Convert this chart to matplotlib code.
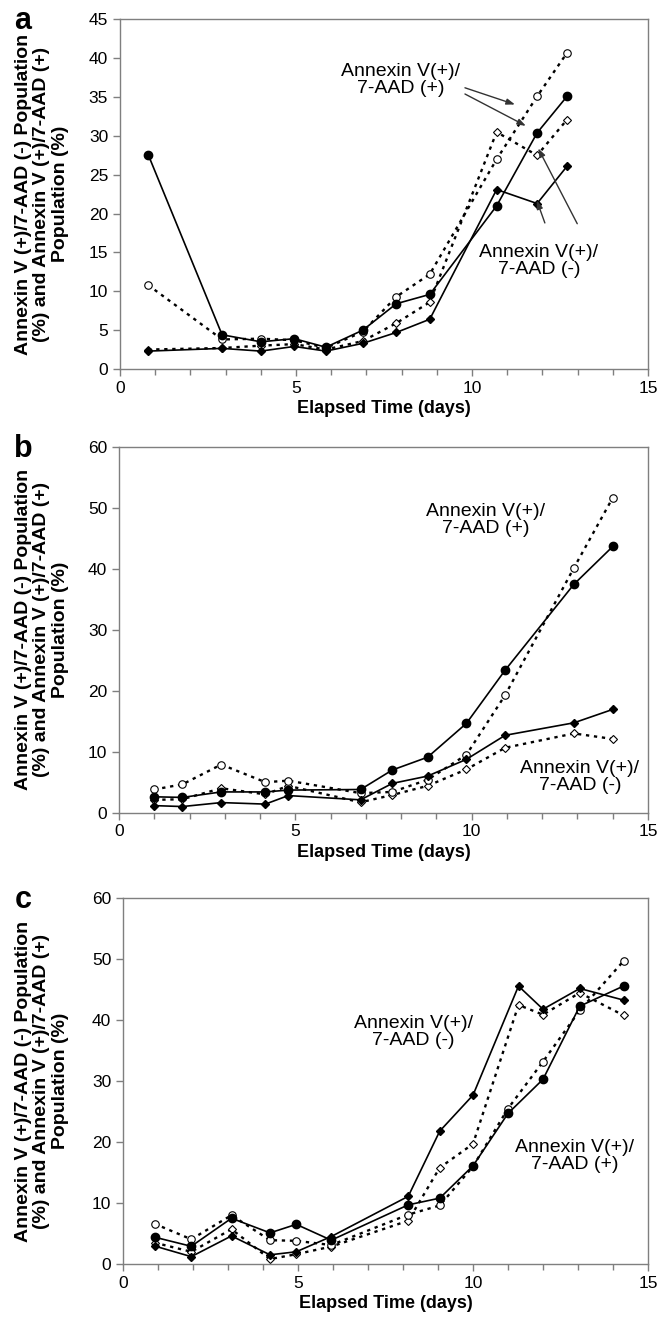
import numpy as np
import matplotlib
matplotlib.use("Agg")
import matplotlib.pyplot as plt
from matplotlib.ticker import MultipleLocator

plt.rcParams['font.family'] = ['Liberation Sans', 'DejaVu Sans']

# ---- panel a ----
days_a = [0.8, 2.9, 4.0, 4.95, 5.85, 6.9, 7.85, 8.8, 10.7, 11.85, 12.7]
a_pos_fill = [27.6, 4.4, 3.5, 3.9, 2.8, 5.0, 8.4, 9.6, 21.0, 30.4, 35.1]
a_pos_open = [10.8, 3.8, 3.9, 3.7, 2.7, 4.8, 9.3, 12.2, 27.0, 35.1, 40.7]
a_neg_fill = [2.3, 2.65, 2.3, 2.9, 2.3, 3.3, 4.7, 6.4, 23.1, 21.3, 26.1]
a_neg_open = [2.5, 2.7, 3.0, 3.2, 2.5, 3.6, 5.9, 8.6, 30.5, 27.5, 32.1]

# ---- panel b ----
days_b = [1.0, 1.8, 2.9, 4.15, 4.8, 6.85, 7.75, 8.75, 9.85, 10.95, 12.9, 14.0]
b_pos_fill = [2.6, 2.5, 3.4, 3.4, 3.7, 3.8, 7.0, 9.1, 14.65, 23.4, 37.5, 43.7]
b_pos_open = [3.8, 4.65, 7.9, 5.0, 5.25, 3.2, 3.4, 5.4, 9.5, 19.3, 40.2, 51.7]
b_neg_fill = [1.15, 1.0, 1.65, 1.4, 2.8, 2.1, 4.8, 6.0, 8.75, 12.7, 14.75, 16.95]
b_neg_open = [2.1, 2.2, 4.0, 3.0, 4.4, 1.7, 2.9, 4.4, 7.1, 10.65, 13.0, 12.1]

# ---- panel c ----
days_c_circ = [0.9, 1.95, 3.1, 4.2, 4.95, 5.95, 8.15, 9.05, 10.0, 11.0, 12.0, 13.05, 14.3]
days_c_diam = [0.9, 1.95, 3.1, 4.2, 4.95, 5.95, 8.15, 9.05, 10.0, 11.3, 12.0, 13.05, 14.3]
c_pos_fill = [4.4, 2.9, 7.5, 5.1, 6.5, 3.9, 9.7, 10.8, 16.1, 24.7, 30.3, 42.3, 45.6]
c_pos_open = [6.6, 4.05, 8.0, 3.9, 3.8, 3.1, 8.1, 9.6, 16.0, 25.5, 33.2, 41.6, 49.7]
c_neg_fill = [2.95, 1.2, 4.6, 1.5, 2.0, 4.5, 11.1, 21.8, 27.7, 45.6, 41.8, 45.2, 43.3]
c_neg_open = [3.5, 2.0, 5.7, 0.8, 1.6, 2.85, 7.1, 15.8, 19.7, 42.5, 40.9, 44.5, 40.8]

lbl_pos = "Annexin V(+)/\n7-AAD (+)"
lbl_neg = "Annexin V(+)/\n7-AAD (-)"
ylab = "Annexin V (+)/7-AAD (-) Population\n(%) and Annexin V (+)/7-AAD (+)\nPopulation (%)"

fig = plt.figure(figsize=(6.61, 13.22), dpi=100)

axes_pos = [[120/661, 0.7209, 528/661, 0.2644],
            [119/661, 0.3853, 529/661, 0.2764],
            [123/661, 0.0439, 525/661, 0.2766]]

solid = dict(color='black', lw=1.2, ls='-')
dotted = dict(color='black', lw=1.7, ls=(0, (1.4, 2.0)))


def draw(ax, xc, xd, pf, po, nf, no, ymax, ystep):
    ax.plot(xd, no, marker='D', ms=4.2, mfc='white', mec='black', mew=0.8, **dotted)
    ax.plot(xc, po, marker='o', ms=5.4, mfc='white', mec='black', mew=0.8, **dotted)
    ax.plot(xd, nf, marker='D', ms=4.4, mfc='black', mec='black', **solid)
    ax.plot(xc, pf, marker='o', ms=6, mfc='black', mec='black', **solid)
    ax.set_xlim(0, 15)
    ax.set_ylim(0, ymax)
    ax.xaxis.set_major_locator(MultipleLocator(5))
    ax.xaxis.set_minor_locator(MultipleLocator(1))
    ax.yaxis.set_major_locator(MultipleLocator(ystep))
    for s in ax.spines.values():
        s.set_color('#7f7f7f')
        s.set_linewidth(1.0)
    ax.tick_params(which='both', direction='out', color='#7f7f7f', labelsize=12.5, width=1.0)
    ax.tick_params(which='major', length=5)
    ax.tick_params(which='minor', length=4)
    ax.set_xlabel("Elapsed Time (days)", fontsize=13, fontweight='bold', labelpad=3)


axs = [fig.add_axes(p) for p in axes_pos]
draw(axs[0], days_a, days_a, a_pos_fill, a_pos_open, a_neg_fill, a_neg_open, 45, 5)
draw(axs[1], days_b, days_b, b_pos_fill, b_pos_open, b_neg_fill, b_neg_open, 60, 10)
draw(axs[2], days_c_circ, days_c_diam, c_pos_fill, c_pos_open, c_neg_fill, c_neg_open, 60, 10)

# annotations panel a
ax = axs[0]
ax.text(7.97, 37.2, lbl_pos, fontsize=14, ha='center', va='center', linespacing=1.0)
ax.text(11.9, 13.9, lbl_neg, fontsize=14, ha='center', va='center', linespacing=1.0)
arr = dict(arrowstyle='-|>,head_length=0.5,head_width=0.18', color='#333333', lw=1.0, shrinkA=0, shrinkB=0)
ax.annotate("", xy=(11.22, 34.05), xytext=(9.8, 36.2), arrowprops=arr)
ax.annotate("", xy=(11.53, 31.3), xytext=(9.8, 35.4), arrowprops=arr)
ax.annotate("", xy=(11.84, 21.7), xytext=(12.07, 18.8), arrowprops=arr)
ax.annotate("", xy=(11.88, 28.4), xytext=(12.99, 18.7), arrowprops=arr)

# panel b labels
axs[1].text(10.4, 48.0, lbl_pos, fontsize=14, ha='center', va='center', linespacing=1.0)
axs[1].text(13.07, 5.8, lbl_neg, fontsize=14, ha='center', va='center', linespacing=1.0)

# panel c labels
axs[2].text(8.29, 38.1, lbl_neg, fontsize=14, ha='center', va='center', linespacing=1.0)
axs[2].text(12.9, 17.7, lbl_pos, fontsize=14, ha='center', va='center', linespacing=1.0)

# y labels and panel letters
for ax, letter in zip(axs, ['a', 'b', 'c']):
    bb = ax.get_position()
    fig.text(42/661, bb.y0 + bb.height/2, ylab, rotation=90, ha='center', va='center',
             fontsize=14, fontweight='bold', multialignment='center', linespacing=1.08)
    fig.text(23/661, bb.y1 - 2/1322, letter, ha='center', va='center', fontsize=22, fontweight='bold')

fig.savefig("out.png", dpi=100)
